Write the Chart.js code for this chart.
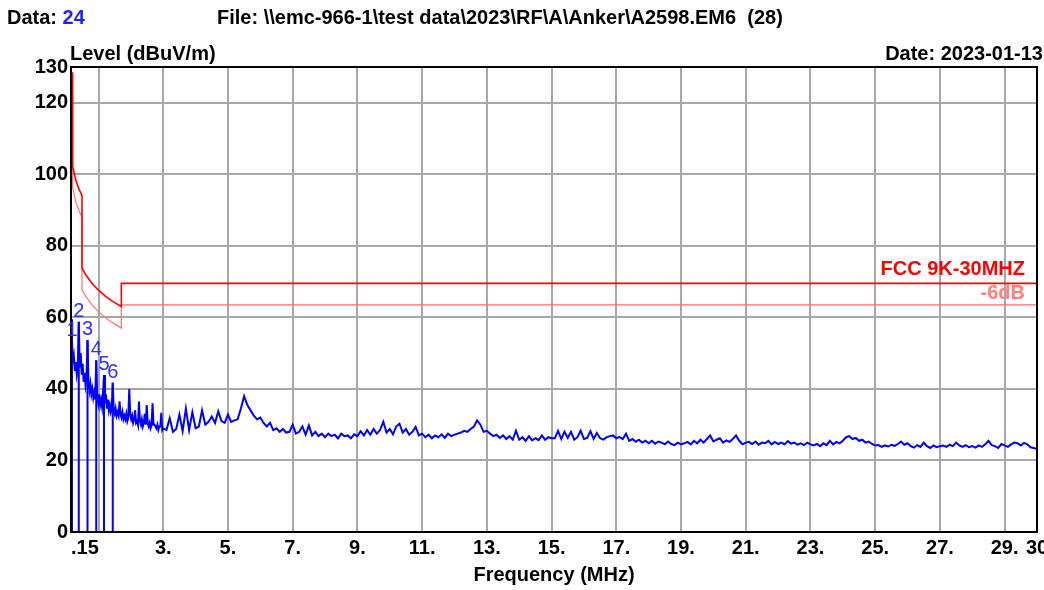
<!DOCTYPE html>
<html><head><meta charset="utf-8">
<script src="https://cdn.jsdelivr.net/npm/chart.js@4.4.1/dist/chart.umd.min.js"></script>
<style>
html,body{margin:0;padding:0;background:#fff;}
#wrap{position:relative;width:1044px;height:590px;overflow:hidden;background:#fff;}
#c{position:absolute;left:0;top:0;}
.t{position:absolute;font:bold 20px/20px "Liberation Sans",Arial,sans-serif;color:#000;white-space:pre;}
</style></head><body>
<div id="wrap">
<canvas id="c" width="1044" height="590"></canvas>
<div class="t" style="left:7px;top:7px">Data: <span style="color:#1f1fff">24</span></div>
<div class="t" style="left:217px;top:7px">File: \\emc-966-1\test data\2023\RF\A\Anker\A2598.EM6  (28)</div>
<div class="t" style="left:70px;top:43px">Level (dBuV/m)</div>
<div class="t" style="right:1px;top:43px">Date: 2023-01-13</div>
</div>
<script>
// ---- measurement sweep (frequency in MHz, level in dBuV/m) ----
const sweepA = {start: 0.15, step: 0.03};
const levelsA = [
 59.5,53.5,47,49,45,47.5,44,46,58.8,46,
 50,44,47,42,44.5,41,43,53.7,42,39.5,
 41.5,38.5,40,37.5,39,37,48,38,36,38.5,
 35.5,37,35,39,43.9,36,38.5,34.5,37,34,
 35.5,33.5,34.5,41.7,34,33,34.5,32.5,33.5,32.5,
 36.5,33,32,33.5,31.5,32.5,31.5,33,31,32,
 40,33,31.5,32.5,30.5,31.5,34,30.5,31,30,
 36.5,31,30,31.5,29.5,30.5,33,30,35.5,30.5,
 29.5,30.5,29,30,36,30,30,29.5,29,30,
 28.5,29.5,29.5,33.3,28.5,29
];
const sweepB = {start: 3.1, step: 0.1};
const levelsB = [
 28.5,31.8,28,28.8,32.8,28.2,34.5,28.5,33.5,29,
 29.5,34,30,30.8,32.3,30.5,33.7,31,30.5,32.8,
 30.8,31.2,31.5,34.5,38,35.5,34,32.5,31.5,32,
 30.5,29.5,30.5,28.5,29,28,28.8,27.8,28,30,
 27.5,28,29.5,27.2,29.8,27,28,26.8,27.5,26.5,
 27.5,26.8,27.2,26.2,27.5,26.8,27,26.2,27.3,26.8,
 28.2,27,28.5,27.2,28.8,27.5,28.5,30.8,27.8,28.8,
 27.3,29.5,30.3,27.8,28.8,27.2,28,29.4,27,27.5,
 26.5,27.2,26.2,27,26.5,27.3,26.3,27.5,26.8,27.2,
 27.5,27.8,28.3,28,28.8,29.5,31.2,30,28,28.3,
 27.5,26.8,27.2,26.3,27,26,26.8,25.8,28.3,25.8,
 26.5,25.5,26.8,25.6,26.2,25.7,27,25.8,26.5,26.2,
 26.2,28.3,26,28,26.3,28,25.8,26.5,28.3,26,
 26.3,28.2,26,27.7,26.2,25.8,26.5,26.8,27,26.2,
 26.6,26,27.5,25.5,26,25.2,25.8,25,25.5,24.8,
 25.5,24.7,25.3,25,24.5,25.3,24.6,24.3,25,24.5,
 24.8,25.2,24.5,25.5,24.8,25.8,25,26,27,25.3,
 25.8,26.2,25,25.6,25.2,26,27,25.5,24.5,25,
 25.2,24.6,25.3,24.4,25,24.8,25.5,24.5,25.2,24.6,
 25,24.5,25.4,24.7,25,24.4,24.8,24.3,25,24.5,
 24.2,24.6,24,24.8,24.3,25.5,24.5,25.2,24.8,25.5,
 26.5,26.8,26,26.3,25.5,25.8,25,25.3,24.6,24.2,
 24.3,23.8,24.2,23.9,24.4,24.1,24.6,25.3,24.4,24.8,
 24,23.6,24.3,23.8,25,24,23.5,24.2,23.7,24,
 24.2,23.8,24.4,24,25,24.2,23.8,24.3,23.7,24,
 23.6,24.2,23.8,24.5,25.5,24.3,24,23.5,24.6,24.2,
 23.8,24.5,25,24.8,24.2,24.9,24.5,23.7,23.5,23.3
];

// ---- limit lines ----
const limitName = 'FCC 9K-30MHZ';
const limitFreq  = [0.2, 0.2, 0.3, 0.4, 0.49, 0.49, 0.6, 0.8, 1.0, 1.2, 1.4, 1.705, 1.705, 30];
const limitLevel = [128.5, 102.3, 98.3, 95.8, 94.0, 73.8, 72.0, 69.5, 67.6, 66.0, 64.7, 63.0, 69.5, 69.5];
const marginName = '-6dB';
const marginFreq  = [0.2, 0.2, 0.3, 0.4, 0.49, 0.49, 0.6, 0.8, 1.0, 1.2, 1.4, 1.705, 1.705, 30];
const marginLevel = [122.5, 96.3, 92.3, 89.8, 88.0, 67.8, 66.0, 63.5, 61.6, 60.0, 58.7, 57.0, 63.5, 63.5];

// ---- markers ----
const markerLabels = ['1','2','3','4','5','6'];
const markerFreq   = [0.18, 0.39, 0.66, 0.93, 1.17, 1.44];
const markerLevel  = [53.5, 58.8, 53.7, 48.0, 43.9, 41.7];

// ---- axes ----
const xTickValues = [0.15, 1, 3, 5, 7, 9, 11, 13, 15, 17, 19, 21, 23, 25, 27, 29, 30, 30];
const xTickLabels = ['.15', '', '3.', '5.', '7.', '9.', '11.', '13.', '15.', '17.', '19.', '21.', '23.', '25.', '27.', '29.', '30', ''];
const yTickValues = [0, 20, 40, 60, 80, 100, 120, 130];
const xTitle = 'Frequency (MHz)';

// ---- build datasets ----
const traceData = levelsA.map((v, i) => ({x: +(sweepA.start + i * sweepA.step).toFixed(3), y: v}))
  .concat(levelsB.map((v, i) => ({x: +(sweepB.start + i * sweepB.step).toFixed(2), y: v})));
const limitData = limitFreq.map((f, i) => ({x: f, y: limitLevel[i]}));
const marginData = marginFreq.map((f, i) => ({x: f, y: marginLevel[i]}));
const markerData = [];
markerFreq.forEach((f, i) => { markerData.push({x: f, y: 0}, {x: f, y: markerLevel[i]}, {x: f, y: null}); });

const FONT = '"Liberation Sans", Arial, sans-serif';

const annotate = {
  id: 'annotate',
  afterDatasetsDraw(chart) {
    const {ctx, chartArea: ca, scales: {x, y}} = chart;
    ctx.save();
    ctx.strokeStyle = '#000'; ctx.lineWidth = 2;
    ctx.strokeRect(ca.left, ca.top, ca.right - ca.left, ca.bottom - ca.top);
    ctx.font = '20px ' + FONT; ctx.fillStyle = '#3030ff';
    ctx.textAlign = 'center'; ctx.textBaseline = 'alphabetic';
    markerFreq.forEach((f, i) => ctx.fillText(markerLabels[i], x.getPixelForValue(f), y.getPixelForValue(markerLevel[i]) - 5));
    ctx.font = 'bold 20px ' + FONT; ctx.textAlign = 'right';
    ctx.fillStyle = '#ff0000';
    ctx.fillText(limitName, ca.right - 12, y.getPixelForValue(limitLevel[limitLevel.length - 1]) - 8);
    ctx.fillStyle = '#ff8080';
    ctx.fillText(marginName, ca.right - 12, y.getPixelForValue(marginLevel[marginLevel.length - 1]) - 6);
    ctx.restore();
  }
};

new Chart(document.getElementById('c'), {
  type: 'line',
  data: {
    datasets: [
      {label: 'marker', data: markerData, borderColor: '#0000ff', borderWidth: 2, pointRadius: 0, spanGaps: false, order: 3},
      {label: 'trace', data: traceData, borderColor: '#0000ff', borderWidth: 2, pointRadius: 0, tension: 0, order: 2},
      {label: marginName, data: marginData, borderColor: '#ff6e6e', borderWidth: 1.2, pointRadius: 0, tension: 0, order: 1},
      {label: limitName, data: limitData, borderColor: '#ff0000', borderWidth: 1.6, pointRadius: 0, tension: 0, order: 0}
    ]
  },
  options: {
    responsive: false,
    animation: false,
    devicePixelRatio: 1,
    layout: {padding: {top: 67, left: 0, right: 7, bottom: 0}},
    plugins: {legend: {display: false}, tooltip: {enabled: false}},
    scales: {
      x: {
        type: 'linear', min: 0.15, max: 30,
        afterBuildTicks: s => { s.ticks = xTickValues.map(v => ({value: v})); },
        afterFit: s => { s.height = 58; },
        ticks: {
          autoSkip: false, maxRotation: 0, align: 'inner', padding: 4, color: '#000',
          font: {family: FONT, size: 20, weight: 'bold'},
          callback: (v, i) => xTickLabels[i]
        },
        grid: {color: '#a8a8a8', lineWidth: 2, drawTicks: false},
        border: {display: true, color: '#000', width: 2},
        title: {display: true, text: xTitle, color: '#000', font: {family: FONT, size: 20, weight: 'bold'}, padding: {top: 0, bottom: 3}}
      },
      y: {
        type: 'linear', min: 0, max: 130,
        afterBuildTicks: s => { s.ticks = yTickValues.map(v => ({value: v})); },
        afterFit: s => { s.width = 71; },
        ticks: {padding: 3, color: '#000', font: {family: FONT, size: 20, weight: 'bold'}, callback: v => String(v)},
        grid: {color: '#a8a8a8', lineWidth: 2, drawTicks: false},
        border: {display: true, color: '#000', width: 2}
      }
    }
  },
  plugins: [annotate]
});
</script>
</body></html>
